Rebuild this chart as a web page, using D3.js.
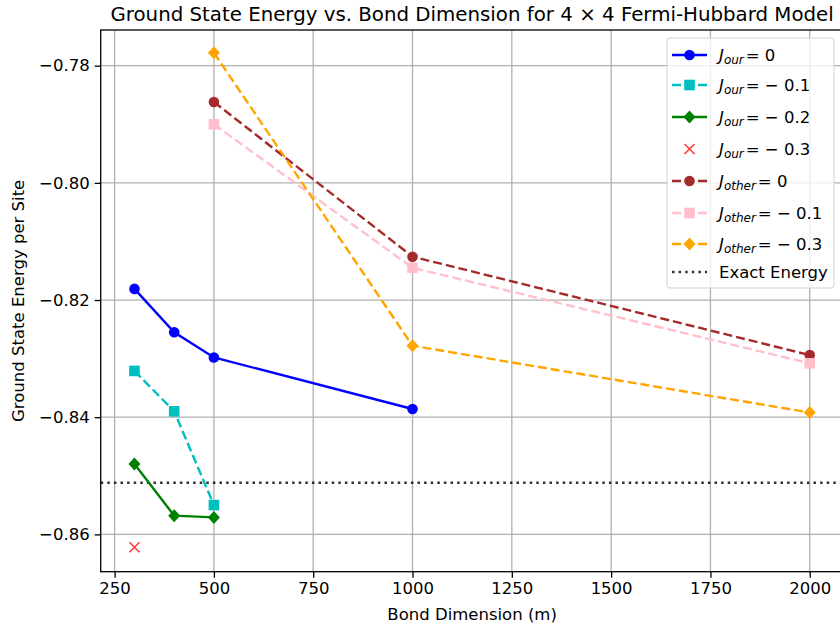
<!DOCTYPE html>
<html>
<head>
<meta charset="utf-8">
<script src="https://cdn.jsdelivr.net/npm/d3@7"></script>
<style>
  body { margin: 0; background: #fff; }
  text { font-family: "DejaVu Sans", sans-serif; fill: #000; }
</style>
</head>
<body>
<div id="chart"></div>
<script>
// bond dimensions used in each run
var mOurs = [300, 400, 500, 1000];
var mOther = [500, 1000, 2000];

// ground state energy per site
var jOur0 = [-0.8181, -0.8255, -0.8298, -0.8386];
var jOur01 = [-0.8321, -0.8390, -0.8550];
var jOur02 = [-0.8480, -0.8568, -0.8571];
var jOur03 = [-0.8622];
var jOther0 = [-0.7862, -0.8126, -0.8294];
var jOther01 = [-0.7900, -0.8145, -0.8308];
var jOther03 = [-0.7778, -0.8278, -0.8392];
var exactEnergy = -0.8512;

var xTicks = [250, 500, 750, 1000, 1250, 1500, 1750, 2000];
var yTicks = [-0.78, -0.80, -0.82, -0.84, -0.86];

var dashed = "9,4";
var dotted = "2.5,4.1";

var series = [
    {sub: "our", val: "= 0", m: mOurs, e: jOur0, color: "#0000ff", dash: null, marker: "circle", line: true},
    {sub: "our", val: "= \u2212 0.1", m: mOurs.slice(0, 3), e: jOur01, color: "#00bfbf", dash: dashed, marker: "square", line: true},
    {sub: "our", val: "= \u2212 0.2", m: mOurs.slice(0, 3), e: jOur02, color: "#008000", dash: null, marker: "diamond", line: true},
    {sub: "our", val: "= \u2212 0.3", m: mOurs.slice(0, 1), e: jOur03, color: "#ff0000", dash: null, marker: "x", line: false},
    {sub: "other", val: "= 0", m: mOther, e: jOther0, color: "#a52a2a", dash: dashed, marker: "circle", line: true},
    {sub: "other", val: "= \u2212 0.1", m: mOther, e: jOther01, color: "#ffc0cb", dash: dashed, marker: "square", line: true},
    {sub: "other", val: "= \u2212 0.3", m: mOther, e: jOther03, color: "#ffa500", dash: dashed, marker: "diamond", line: true}
];

var width = 840, height = 635;
var pLeft = 100.7, pRight = 843.5, pTop = 30, pBottom = 571.7;
var fs = "16.5px";

var svg = d3.select("#chart").append("svg")
    .attr("width", width)
    .attr("height", height);

var x = d3.scaleLinear().domain([215, 2085]).range([pLeft, pRight]);
var y = d3.scaleLinear().domain([-0.86637, -0.77391]).range([pBottom, pTop]);

// grid
var grid = svg.append("g");
grid.selectAll(".gx").data(xTicks).join("line")
    .attr("x1", d => x(d)).attr("x2", d => x(d))
    .attr("y1", pTop).attr("y2", pBottom)
    .attr("stroke", "#b0b0b0").attr("stroke-width", 1.3);
grid.selectAll(".gy").data(yTicks).join("line")
    .attr("x1", pLeft).attr("x2", pRight)
    .attr("y1", d => y(d)).attr("y2", d => y(d))
    .attr("stroke", "#b0b0b0").attr("stroke-width", 1.3);

// axes
var xAxis = svg.append("g")
    .attr("transform", "translate(0," + pBottom + ")")
    .call(d3.axisBottom(x).tickValues(xTicks).tickSize(6).tickPadding(5).tickFormat(d3.format("d")));
var yAxis = svg.append("g")
    .attr("transform", "translate(" + pLeft + ",0)")
    .call(d3.axisLeft(y).tickValues(yTicks).tickSize(6).tickPadding(5)
        .tickFormat(d => d3.format(".2f")(d).replace("-", "\u2212")));
[xAxis, yAxis].forEach(function (a) {
    a.select(".domain").remove();
    a.selectAll("line").attr("stroke", "#000").attr("stroke-width", 1.3);
    a.selectAll("text").style("font-size", fs).style("font-family", "DejaVu Sans").attr("fill", "#000");
});

// spines
svg.append("rect")
    .attr("x", pLeft).attr("y", pTop)
    .attr("width", pRight - pLeft).attr("height", pBottom - pTop)
    .attr("fill", "none").attr("stroke", "#000").attr("stroke-width", 1.3);

// exact energy line
svg.append("line")
    .attr("x1", pLeft).attr("x2", pRight)
    .attr("y1", y(exactEnergy)).attr("y2", y(exactEnergy))
    .attr("stroke", "#000").attr("stroke-width", 2.5)
    .attr("stroke-dasharray", dotted).attr("opacity", 0.8);

function drawMarker(g, type, color, cx, cy) {
    if (type == "circle") {
        g.append("circle").attr("cx", cx).attr("cy", cy).attr("r", 5.3).attr("fill", color);
    } else if (type == "square") {
        g.append("rect").attr("x", cx - 5.3).attr("y", cy - 5.3)
            .attr("width", 10.6).attr("height", 10.6).attr("fill", color);
    } else if (type == "diamond") {
        g.append("path")
            .attr("d", "M" + cx + "," + (cy - 6.5) + "L" + (cx + 6) + "," + cy + "L" + cx + "," + (cy + 6.5) + "L" + (cx - 6) + "," + cy + "Z")
            .attr("fill", color);
    } else if (type == "x") {
        g.append("path")
            .attr("d", "M" + (cx - 5) + "," + (cy - 5) + "L" + (cx + 5) + "," + (cy + 5) + "M" + (cx - 5) + "," + (cy + 5) + "L" + (cx + 5) + "," + (cy - 5))
            .attr("stroke", color).attr("stroke-width", 1.7).attr("opacity", 0.75).attr("fill", "none");
    }
}

var line = d3.line().x(d => x(d[0])).y(d => y(d[1]));

series.forEach(function (s) {
    var g = svg.append("g");
    var pts = s.m.map((m, i) => [m, s.e[i]]);
    if (s.line) {
        g.append("path")
            .attr("d", line(pts))
            .attr("fill", "none")
            .attr("stroke", s.color)
            .attr("stroke-width", 2.4)
            .attr("stroke-dasharray", s.dash);
    }
    pts.forEach(p => drawMarker(g, s.marker, s.color, x(p[0]), y(p[1])));
});

// legend
var lg = svg.append("g");
lg.append("rect")
    .attr("x", 667).attr("y", 38).attr("width", 167).attr("height", 250).attr("rx", 3)
    .attr("fill", "#fff").attr("fill-opacity", 0.8)
    .attr("stroke", "#d0d0d0").attr("stroke-width", 1);

var rowY = [55, 85, 117, 149, 181, 213, 244];
series.forEach(function (s, i) {
    var ry = rowY[i];
    if (s.line) {
        lg.append("line")
            .attr("x1", 672).attr("x2", 707).attr("y1", ry).attr("y2", ry)
            .attr("stroke", s.color).attr("stroke-width", 2.4)
            .attr("stroke-dasharray", s.dash);
    }
    drawMarker(lg, s.marker, s.color, 689.5, ry);
    var t = lg.append("text").attr("x", 719).attr("y", ry + 6).style("font-size", fs);
    t.append("tspan").text("J").style("font-style", "italic");
    t.append("tspan").text(s.sub).style("font-style", "italic").style("font-size", "12px").attr("dy", 3);
    t.append("tspan").text(s.val).attr("dy", -3).attr("dx", 2);
});
lg.append("line")
    .attr("x1", 672).attr("x2", 707).attr("y1", 272).attr("y2", 272)
    .attr("stroke", "#000").attr("stroke-width", 2.5)
    .attr("stroke-dasharray", dotted).attr("opacity", 0.8);
lg.append("text").attr("x", 719).attr("y", 278).style("font-size", fs).text("Exact Energy");

// titles
svg.append("text")
    .attr("x", (pLeft + pRight) / 2).attr("y", 21)
    .attr("text-anchor", "middle").style("font-size", "19.8px")
    .text("Ground State Energy vs. Bond Dimension for 4 \u00d7 4 Fermi-Hubbard Model");
svg.append("text")
    .attr("x", (pLeft + pRight) / 2).attr("y", 620)
    .attr("text-anchor", "middle").style("font-size", fs)
    .text("Bond Dimension (m)");
svg.append("text")
    .attr("transform", "translate(24," + (pTop + pBottom) / 2 + ") rotate(-90)")
    .attr("text-anchor", "middle").style("font-size", fs)
    .text("Ground State Energy per Site");
</script>
</body>
</html>
